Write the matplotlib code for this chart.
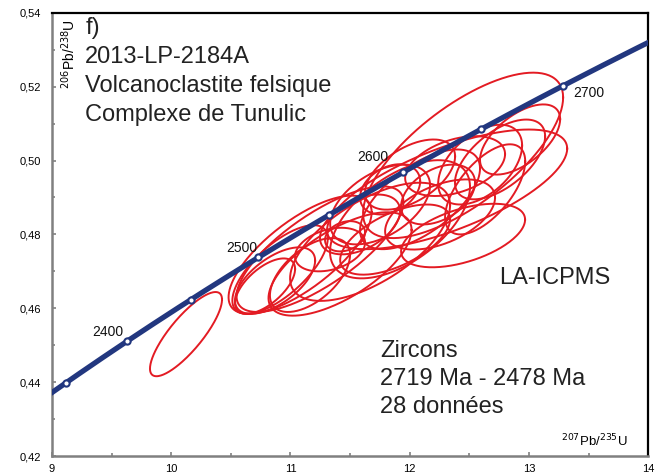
import matplotlib
matplotlib.use("Agg")
import matplotlib.pyplot as plt
import numpy as np
from matplotlib.ticker import MultipleLocator, FuncFormatter

plt.rcParams['font.family'] = ['Liberation Sans', 'DejaVu Sans']

# U decay constants (1/yr)
LAMBDA_238 = 1.55125e-10
LAMBDA_235 = 9.8485e-10

# concordia age markers (Ma) and which of them get a label
marker_ages = [2350, 2400, 2450, 2500, 2550, 2600, 2650, 2700]
label_ages = [2400, 2500, 2600, 2700]

# zircon analyses: 207Pb/235U, 2s, 206Pb/238U, 2s, error correlation
pb207_u235 = [12.448, 12.314, 12.591, 12.238, 12.448, 11.458, 11.081, 11.248,
              10.913, 11.416, 11.668, 11.919, 12.087, 12.758, 12.926, 11.752,
              12.003, 11.584, 12.255, 11.164, 10.871, 11.836, 12.381, 11.332,
              11.878, 12.633, 10.787, 10.124]
err_207 = [0.839, 1.007, 0.352, 0.310, 0.520, 0.168, 0.600, 0.700,
           0.400, 0.600, 0.671, 0.587, 0.503, 0.378, 0.336, 0.419,
           0.378, 0.336, 0.461, 0.336, 0.336, 0.252, 0.419, 0.294,
           0.461, 0.336, 0.252, 0.302]
pb206_u238 = [0.5014, 0.4922, 0.4989, 0.4908, 0.4797, 0.4795, 0.4745, 0.4760,
              0.4705, 0.4720, 0.4780, 0.4841, 0.4895, 0.5003, 0.5057, 0.4881,
              0.4962, 0.4827, 0.4854, 0.4690, 0.4675, 0.4922, 0.4985, 0.4759,
              0.4786, 0.4922, 0.4660, 0.4530]
err_206 = [0.0224, 0.0162, 0.0108, 0.0081, 0.0086, 0.0041, 0.0160, 0.0170,
           0.0120, 0.0140, 0.0160, 0.0160, 0.0135, 0.0108, 0.0095, 0.0108,
           0.0095, 0.0081, 0.0095, 0.0100, 0.0090, 0.0068, 0.0081, 0.0059,
           0.0095, 0.0122, 0.0075, 0.0114]
rho = [0.70, 0.68, 0.48, 0.40, 0.50, 0.25, 0.72, 0.75,
       0.70, 0.66, 0.62, 0.55, 0.62, 0.58, 0.58, 0.48,
       0.52, 0.45, 0.48, 0.55, 0.60, 0.32, 0.40, 0.32,
       0.58, 0.62, 0.62, 0.82]

NAVY = '#22377f'
RED = '#e31b23'


def concordia(t_ma):
    t = np.asarray(t_ma) * 1e6
    return np.exp(LAMBDA_235 * t) - 1, np.exp(LAMBDA_238 * t) - 1


def error_ellipse(x, ex, y, ey, r, n=200):
    th = np.linspace(0, 2 * np.pi, n)
    xs = x + ex * np.cos(th)
    ys = y + ey * (r * np.cos(th) + np.sqrt(1 - r ** 2) * np.sin(th))
    return xs, ys


fig = plt.figure(figsize=(6.58, 4.75), dpi=100)
ax = fig.add_axes([0.079, 0.04, 0.906, 0.933])

# error ellipses
for i in range(len(pb207_u235)):
    xs, ys = error_ellipse(pb207_u235[i], err_207[i], pb206_u238[i],
                           err_206[i], rho[i])
    ax.plot(xs, ys, color=RED, lw=1.4, zorder=2)

# concordia curve
t_curve = np.linspace(2300, 2800, 400)
cx, cy = concordia(t_curve)
ax.plot(cx, cy, color=NAVY, lw=3.8, zorder=3, solid_capstyle='butt')
mx, my = concordia(marker_ages)
ax.plot(mx, my, 'o', ms=4.5, mfc='white', mec=NAVY, mew=1.5, zorder=4)

label_offsets = {2400: (-14, 7), 2500: (-12, 7), 2600: (-22, 11), 2700: (19, -5)}
for age in label_ages:
    lx, ly = concordia(age)
    ax.annotate(str(age), (lx, ly), xytext=label_offsets[age],
                textcoords='offset points', ha='center', va='center',
                fontsize=10, color='#111111', zorder=5)

ax.set_xlim(9, 14)
ax.set_ylim(0.42, 0.54)
ax.xaxis.set_major_locator(MultipleLocator(1))
ax.xaxis.set_minor_locator(MultipleLocator(0.5))
ax.yaxis.set_major_locator(MultipleLocator(0.02))
ax.yaxis.set_minor_locator(MultipleLocator(0.01))
ax.yaxis.set_major_formatter(FuncFormatter(lambda v, p: f'{v:.2f}'.replace('.', ',')))
ax.tick_params(which='both', direction='in', color='#808080', labelsize=8,
               width=1.2)
ax.tick_params(which='major', length=3)
ax.tick_params(which='minor', length=2)
ax.tick_params(axis='x', pad=6)
ax.tick_params(axis='y', pad=8)

for side in ['left', 'bottom']:
    ax.spines[side].set_color('#808080')
    ax.spines[side].set_linewidth(1.8)
for side in ['top', 'right']:
    ax.spines[side].set_color('black')
    ax.spines[side].set_linewidth(1.6)

# axis titles drawn inside the frame
ax.text(0.028, 0.985, r'$^{206}$Pb/$^{238}$U', transform=ax.transAxes,
        rotation=90, ha='center', va='top', fontsize=10)
ax.text(0.965, 0.016, r'$^{207}$Pb/$^{235}$U', transform=ax.transAxes,
        ha='right', va='bottom', fontsize=9.5)

big = 17
ax.text(0.056, 0.965, 'f)', transform=ax.transAxes, fontsize=big,
        va='center', color='#222222')
sample_lines = ['2013-LP-2184A', 'Volcanoclastite felsique', 'Complexe de Tunulic']
for k, s in enumerate(sample_lines):
    ax.text(0.056, 0.9 - 0.065 * k, s, transform=ax.transAxes, fontsize=big,
            va='center', color='#222222')

ax.text(0.75, 0.402, 'LA-ICPMS', transform=ax.transAxes, fontsize=big,
        va='center', color='#222222')
info_lines = ['Zircons', '2719 Ma - 2478 Ma', '28 données']
for k, s in enumerate(info_lines):
    ax.text(0.55, 0.238 - 0.064 * k, s, transform=ax.transAxes, fontsize=big,
            va='center', color='#222222')

fig.savefig('out.png', dpi=100)
